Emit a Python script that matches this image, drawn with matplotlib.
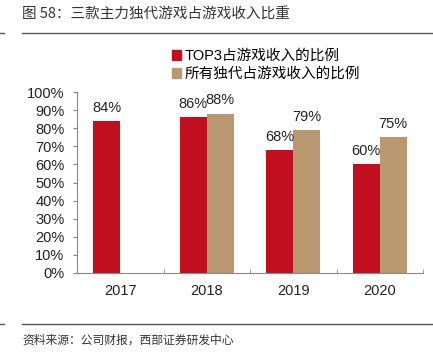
import matplotlib
matplotlib.use("Agg")
import matplotlib.pyplot as plt
import numpy as np
from matplotlib.lines import Line2D
from matplotlib.patches import Patch

plt.rcParams['font.family'] = ['Liberation Sans', 'Noto Sans CJK SC', 'DejaVu Sans']

years = ['2017', '2018', '2019', '2020']
top3 = [84, 86, 68, 60]
indie = [None, 88, 79, 75]
yticks = [0, 10, 20, 30, 40, 50, 60, 70, 80, 90, 100]
series_names = ['TOP3占游戏收入的比例', '所有独代占游戏收入的比例']
title = '图 58：三款主力独代游戏占游戏收入比重'
source = '资料来源：公司财报，西部证券研发中心'

red = '#C20F1F'
tan = '#B99872'

fig = plt.figure(figsize=(4.33, 3.58), dpi=100)
ax = fig.add_axes([77/433, 1-273/358, (423-77)/433, (273-92)/358])

x = np.arange(len(years))
w = 0.31
fs = 10.5
for i, v in enumerate(top3):
    ax.bar(x[i] - w/2, v, w, color=red, zorder=2)
    ax.text(x[i] - w/2, v + 3.5, f'{v}%', ha='center', va='bottom', fontsize=fs, color='#222222')
for i, v in enumerate(indie):
    if v is None:
        continue
    ax.bar(x[i] + w/2, v, w, color=tan, zorder=2)
    ax.text(x[i] + w/2, v + 3.5, f'{v}%', ha='center', va='bottom', fontsize=fs, color='#222222')

ax.set_xlim(-0.5, len(years) - 0.5)
ax.set_ylim(0, 100)
ax.set_yticks(yticks)
ax.set_yticklabels([f'{t}%' for t in yticks], fontsize=fs, color='#222222')
ax.set_xticks(x)
ax.set_xticklabels(years, fontsize=fs, color='#222222')
ax.set_xticks(np.arange(len(years) + 1) - 0.5, minor=True)
ax.tick_params(axis='x', which='major', length=0, pad=8)
ax.tick_params(axis='x', which='minor', length=3, direction='in', color='#888888')
ax.tick_params(axis='y', length=3, direction='out', color='#888888', pad=6)
for s in ['top', 'right']:
    ax.spines[s].set_visible(False)
for s in ['left', 'bottom']:
    ax.spines[s].set_color('#888888')
    ax.spines[s].set_linewidth(0.8)

handles = [Patch(color=red), Patch(color=tan)]
leg = fig.legend(handles, series_names, loc='upper left', bbox_to_anchor=(166/433, 1-43/358),
                 frameon=False, fontsize=fs, handlelength=0.65, handleheight=0.65,
                 handletextpad=0.2, labelspacing=0.3, borderaxespad=0)

fig.text(22/433, 1-14/358, title, fontsize=10.5, va='center', ha='left', color='#333333',
         family=['Noto Sans CJK SC', 'DejaVu Sans'])
fig.text(22/433, 1-340/358, source, fontsize=8.5, va='center', ha='left', color='#333333',
         family=['Noto Sans CJK SC', 'DejaVu Sans'])
for yy in [33, 324]:
    fig.add_artist(Line2D([22/433, 1], [1-yy/358]*2, color='#555555', lw=1.0))
    fig.add_artist(Line2D([0, 4/433], [1-yy/358]*2, color='#555555', lw=1.0))

fig.savefig('out.png', dpi=100)
